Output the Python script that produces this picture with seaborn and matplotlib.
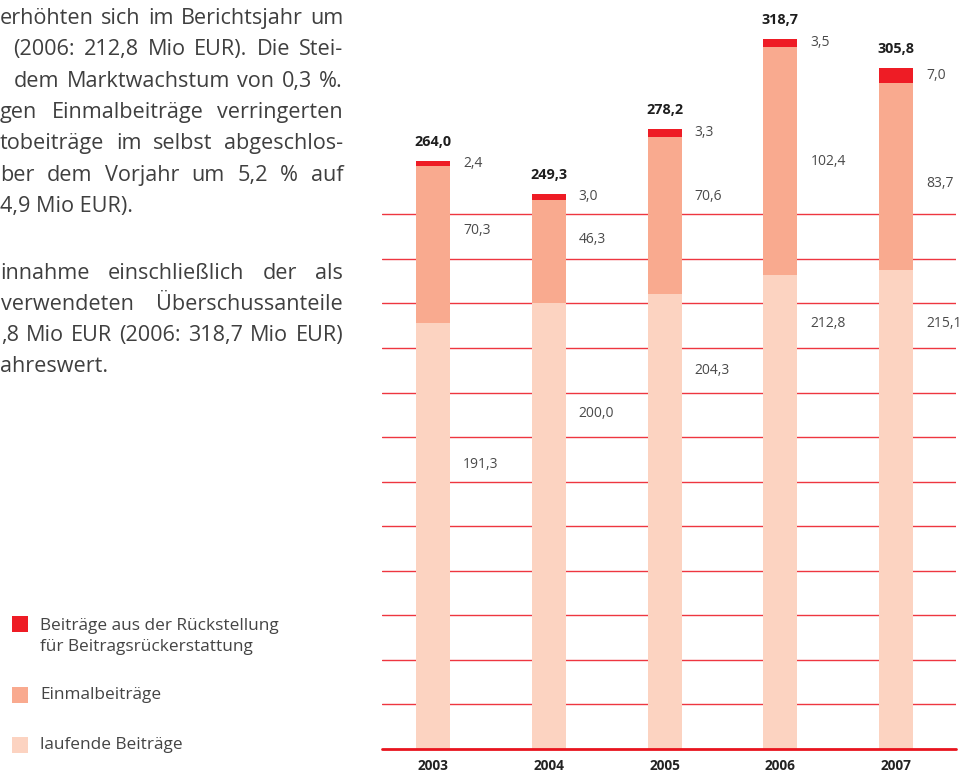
import matplotlib
matplotlib.use("Agg")
import matplotlib.pyplot as plt
from matplotlib.patches import Rectangle
import seaborn as sns
import pandas as pd

# ---------------- data ----------------
years = ["2003", "2004", "2005", "2006", "2007"]
laufende = [191.3, 200.0, 204.3, 212.8, 215.1]
einmal = [70.3, 46.3, 70.6, 102.4, 83.7]
rueckstellung = [2.4, 3.0, 3.3, 3.5, 7.0]

legend_labels = ["Beiträge aus der Rückstellung\nfür Beitragsrückerstattung",
                 "Einmalbeiträge", "laufende Beiträge"]

paragraph_lines = [
    "erhöhten sich im Berichtsjahr um",
    "(2006: 212,8 Mio EUR). Die Stei-",
    "dem Marktwachstum von 0,3 %.",
    "gen Einmalbeiträge verringerten",
    "tobeiträge im selbst abgeschlos-",
    "ber dem Vorjahr um 5,2 % auf",
    "4,9 Mio EUR).",
    "innahme einschließlich der als",
    "verwendeten Überschussanteile",
    ",8 Mio EUR (2006: 318,7 Mio EUR)",
    "ahreswert.",
]

# ---------------- layout / style ----------------
W, H, DPI = 965, 773, 100
C_RED = "#ee1c25"
C_EIN = "#f9aa8f"
C_LAUF = "#fcd3c1"
C_GRID = "#ee2b35"
C_TEXT = "#3f3f3f"
FAM = ["Open Sans", "DejaVu Sans"]

# paragraph: (left px, baseline px, justified?)
para_layout = [(0, 24, True), (13, 55, True), (14, 87, True), (0, 118, True),
               (0, 149, True), (0, 181, True), (0, 212, False),
               (0, 279, True), (1, 310, True), (1, 341, True), (0, 372, False)]
PARA_RIGHT = 343
PARA_FS = 15.6

# label heights (data units) for the inner segment values
lauf_label_y = [127.9, 150.4, 170.1, 190.8, 190.8]
ein_label_y = [232.9, 228.5, 247.8, 263.5, 254.0]

sns.set_theme(style="white")
plt.rcParams["font.family"] = FAM

fig = plt.figure(figsize=(W / DPI, H / DPI), dpi=DPI)


def fx(px):
    return px / W


def fy(py):
    return 1 - py / H


# ---------------- chart ----------------
ax_left, ax_right, ax_base = 382, 956, 749
PX_PER_UNIT = 2.228
ax = fig.add_axes([fx(ax_left), fy(ax_base), fx(ax_right - ax_left), ax_base / H])

df = pd.DataFrame({"year": years, "lauf": laufende, "ein": einmal, "rk": rueckstellung})
df["cum_ein"] = df["lauf"] + df["ein"]
df["total"] = df["cum_ein"] + df["rk"]

BAR_W = 0.294
for col, colr in [("total", C_RED), ("cum_ein", C_EIN), ("lauf", C_LAUF)]:
    sns.barplot(data=df, x="year", y=col, order=years, color=colr, saturation=1,
                width=BAR_W, linewidth=0, ax=ax, zorder=2)

ax.set_ylim(0, ax_base / PX_PER_UNIT)
ax.set_xlim(-0.4406, 4.518)
ax.set_yticks(range(20, 260, 20))
ax.yaxis.grid(True, color=C_GRID, lw=1.0, alpha=0.95)
ax.xaxis.grid(False)
ax.set_axisbelow(True)
ax.tick_params(axis="y", left=False, labelleft=False)
ax.tick_params(axis="x", bottom=False, pad=1.5)
for lbl in ax.get_xticklabels():
    lbl.set_fontweight("bold")
    lbl.set_fontsize(9.8)
    lbl.set_color("#222222")
ax.set_xlabel("")
ax.set_ylabel("")
for s in ax.spines.values():
    s.set_visible(False)
ax.axhline(0, color="#e8141e", lw=2.0, clip_on=False, zorder=6)


def de(v):
    return f"{v:.1f}".replace(".", ",")


PT = 72 / DPI
for i in range(len(years)):
    tot = df["total"][i]
    ax.annotate(de(tot), xy=(i, tot), xytext=(0, 19 * PT), textcoords="offset points",
                ha="center", va="center", fontsize=10.4, fontweight="bold",
                color="#1e1e1e", annotation_clip=False)
    xr = i + BAR_W / 2
    ymid_rk = df["cum_ein"][i] + df["rk"][i] / 2
    for val, yv in [(rueckstellung[i], ymid_rk), (einmal[i], ein_label_y[i]),
                    (laufende[i], lauf_label_y[i])]:
        ax.annotate(de(val), xy=(xr, yv), xytext=(13 * PT, 0), textcoords="offset points",
                    ha="left", va="center", fontsize=10, color="#4a4a4a",
                    annotation_clip=False)

# ---------------- legend ----------------
leg_items = [(C_RED, 616, [626, 647]), (C_EIN, 687, [695]), (C_LAUF, 737, [745])]
for (colr, top, ys), lab in zip(leg_items, legend_labels):
    fig.patches.append(Rectangle((fx(12), fy(top + 16)), fx(16), 16 / H,
                                 transform=fig.transFigure, color=colr, lw=0))
    for line, yy in zip(lab.split("\n"), ys):
        fig.text(fx(40), fy(yy), line, ha="left", va="center", fontsize=12.4,
                 color="#444444")

# ---------------- paragraph (justified) ----------------
renderer = fig.canvas.get_renderer()
for text, (left, base, just) in zip(paragraph_lines, para_layout):
    if not just:
        fig.text(fx(left), fy(base), text, ha="left", va="baseline",
                 fontsize=PARA_FS, color=C_TEXT)
        continue
    words = text.split(" ")
    objs = [fig.text(0, fy(base), w, ha="left", va="baseline", fontsize=PARA_FS,
                     color=C_TEXT) for w in words]
    widths = [o.get_window_extent(renderer).width for o in objs]
    gap = (PARA_RIGHT - left - sum(widths)) / max(len(words) - 1, 1)
    x = left
    for o, w in zip(objs, widths):
        o.set_x(fx(x))
        x += w + gap

fig.savefig("out.png", dpi=DPI)
